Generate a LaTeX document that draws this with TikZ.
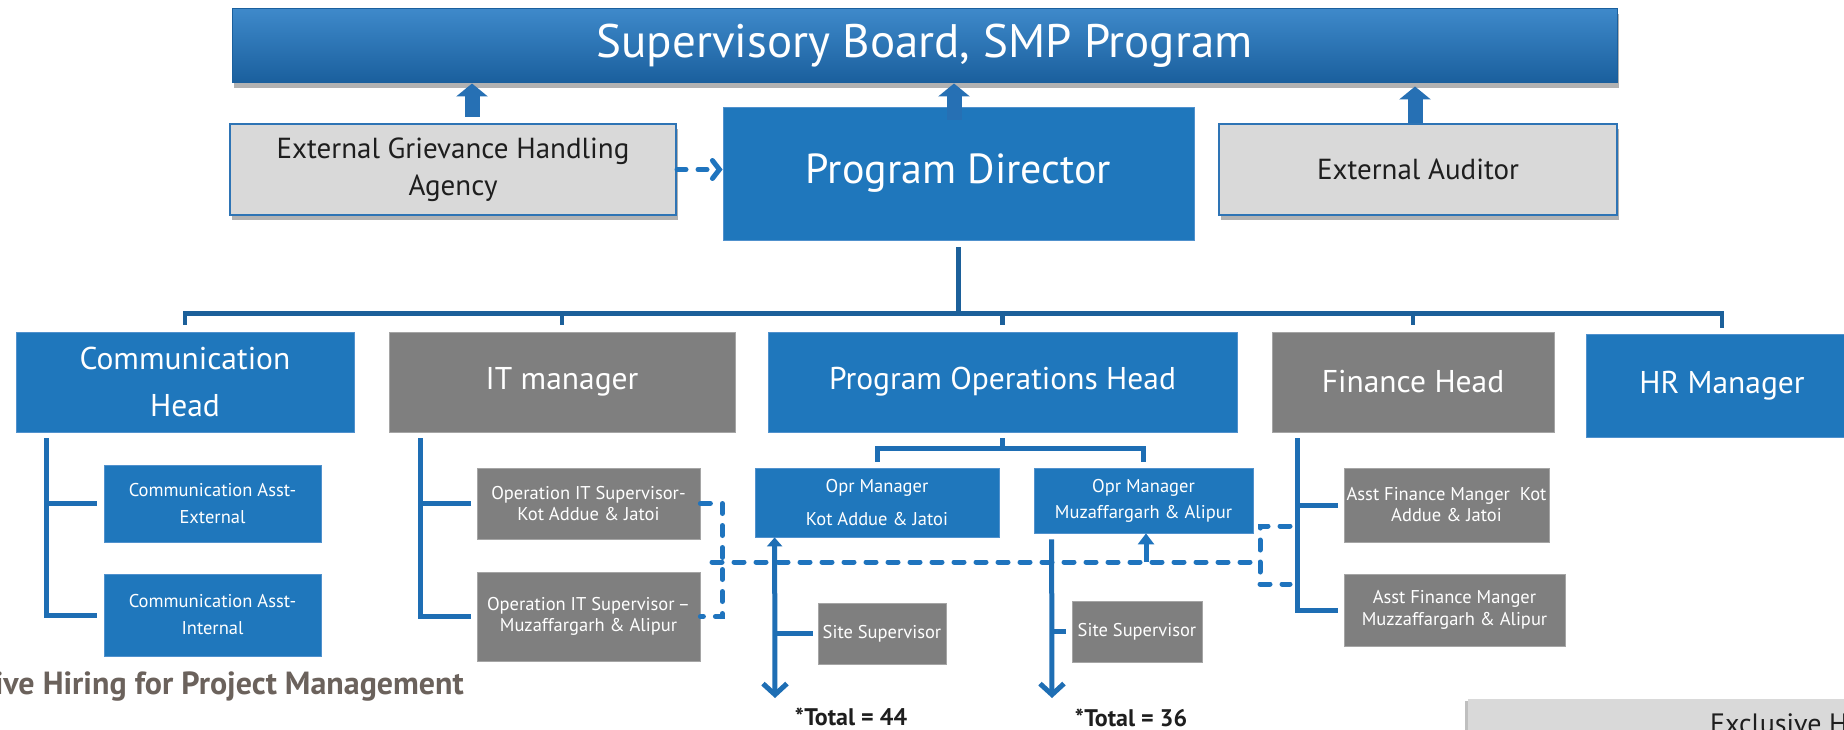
\documentclass[tikz,border=0pt]{standalone}
\usepackage{fontspec}
\setmainfont{PT Sans}
\usetikzlibrary{arrows.meta,shadows,calc}
\definecolor{boxblue}{RGB}{31,119,188}
\definecolor{boxblueedge}{RGB}{80,145,205}
\definecolor{boxgray}{RGB}{127,127,127}
\definecolor{boxgrayedge}{RGB}{165,165,165}
\definecolor{boxlight}{RGB}{217,217,217}
\definecolor{lightedge}{RGB}{46,116,181}
\definecolor{suptop}{RGB}{62,137,202}
\definecolor{supbot}{RGB}{26,95,157}
\definecolor{busblue}{RGB}{28,96,154}
\definecolor{brblue}{RGB}{30,110,180}
\definecolor{dshblue}{RGB}{31,116,190}
\definecolor{arrblue}{RGB}{38,112,180}
\definecolor{textdark}{RGB}{30,30,30}
\definecolor{brownish}{RGB}{107,98,92}
\begin{document}
\begin{tikzpicture}[x=1pt,y=-1pt,
  box/.style={rectangle, inner sep=0pt, align=center, text=white},
  bluebox/.style={box, fill=boxblue, draw=boxblueedge, line width=0.8pt},
  graybox/.style={box, fill=boxgray, draw=boxgrayedge, line width=0.8pt},
  lightbox/.style={box, fill=boxlight, draw=lightedge, line width=2pt, text=textdark,
    drop shadow={shadow xshift=2pt, shadow yshift=-5pt, opacity=0.3, fill=black}},
  big/.style={font=\fontsize{31.5}{47}\selectfont},
  mid/.style={font=\fontsize{29}{37}\selectfont},
  small/.style={font=\fontsize{18.5}{27}\selectfont},
  blockarr/.style={draw=arrblue, line width=15pt, -{Triangle[length=13pt,width=31pt]}},
  dasharr/.style={draw=dshblue, line width=5pt, dash pattern=on 9pt off 12pt, line cap=round,
    -{Straight Barb[length=7pt,width=18pt,line cap=round]}},
  dsh/.style={draw=dshblue, line width=5pt, dash pattern=on 10pt off 12pt, line cap=round},
  bus/.style={draw=busblue, line width=4.5pt},
  brk/.style={draw=brblue, line width=5pt},
]
\clip (0,0) rectangle (1844,730);
\fill[white] (0,0) rectangle (1844,730);

% top level
\node[box, top color=suptop, bottom color=supbot, draw=supbot, line width=1pt,
  minimum width=1385pt, minimum height=74pt, font=\fontsize{47}{56}\selectfont,
  drop shadow={shadow xshift=2pt, shadow yshift=-5pt, opacity=0.3, fill=black}]
  (sup) at (924.5,46) {Supervisory Board, SMP Program};
\node[lightbox, mid, minimum width=446pt, minimum height=91pt] (egha) at (453,169.5)
  {External Grievance Handling\\Agency};
\node[bluebox, font=\fontsize{42}{50}\selectfont, minimum width=471pt, minimum height=133pt]
  (pd) at (958.5,173.5) {Program Director};
\node[lightbox, mid, minimum width=398pt, minimum height=91pt] (aud) at (1418,169.5)
  {External Auditor};

% block arrows
\coordinate (a1) at ([xshift=19pt,yshift=6pt]egha.north);
\coordinate (a2) at ([xshift=-4.5pt,yshift=-13pt]pd.north);
\coordinate (a3) at ([xshift=-3pt]aud.north);
\draw[blockarr] (a1) -- (a1 |- sup.south);
\draw[blockarr] (a2) -- (a2 |- sup.south);
\draw[blockarr] (a3) -- ([yshift=-3pt]a3 |- sup.south);

\draw[dasharr] (egha.east) -- (egha.east -| pd.west);

% level 2
\node[bluebox, big, minimum width=338pt, minimum height=100pt] (comm) at (185,382)
  {Communication\\Head};
\node[graybox, big, minimum width=346pt, minimum height=100pt] (it) at (562,382) {IT manager};
\node[bluebox, big, minimum width=469pt, minimum height=100pt] (poh) at (1002.5,382)
  {Program Operations Head};
\node[graybox, big, minimum width=282pt, minimum height=100pt] (fin) at (1413,382) {Finance Head};
\node[bluebox, big, minimum width=272pt, minimum height=103pt] (hr) at (1722,385.5) {HR Manager};

% bus
\coordinate (pdb) at ([yshift=-7pt]pd.south);
\coordinate (bl) at ([yshift=18pt]comm.north);
\coordinate (brr) at ([yshift=20pt]hr.north);
\draw[bus] ([yshift=7pt]comm.north) -- (bl) -- (brr) -- ([yshift=6pt]hr.north);
\draw[bus] (pdb) -- (pdb |- bl);
\draw[bus] ([yshift=7pt]it.north) -- ([yshift=18pt]it.north);
\draw[bus] ([yshift=7pt]poh.north) -- ([yshift=18pt]poh.north);
\draw[bus] ([yshift=7pt]fin.north) -- ([yshift=18pt]fin.north);

% communication children
\node[bluebox, small, minimum width=217pt, minimum height=77pt] (cae) at (212.5,503.5)
  {Communication Asst-\\External};
\node[bluebox, small, minimum width=217pt, minimum height=82pt] (cai) at (212.5,615)
  {Communication Asst-\\Internal};
\coordinate (cb) at ([xshift=31pt,yshift=-6pt]comm.south west);
\draw[brk] (cb) |- ([xshift=-7pt]cai.west);
\draw[brk] (cb |- cae.west) -- ([xshift=-7pt]cae.west);

% IT children
\node[graybox, font=\fontsize{18.5}{21}\selectfont, minimum width=223pt, minimum height=71pt]
  (its1) at (588.5,503.5) {Operation IT Supervisor-\\Kot Addue \& Jatoi};
\node[graybox, font=\fontsize{18.5}{21}\selectfont, minimum width=223pt, minimum height=89pt]
  (its2) at (588.5,616.5) {Operation IT Supervisor\,–\\Muzaffargarh \& Alipur};
\coordinate (ib) at ([xshift=32pt,yshift=-6pt]it.south west);
\draw[brk] (ib) |- ([xshift=-6pt]its2.west);
\draw[brk] (ib |- its1.west) -- ([xshift=-6pt]its1.west);

% operations children
\node[bluebox, font=\fontsize{18.5}{33}\selectfont, minimum width=244pt, minimum height=69pt]
  (opm1) at (877,502.5) {Opr Manager\\Kot Addue \& Jatoi};
\node[bluebox, font=\fontsize{18.5}{29}\selectfont, minimum width=219pt, minimum height=65pt]
  (opm2) at (1143.5,500.5) {\raisebox{-3pt}{Opr Manager}\\Muzaffargarh \& Alipur};
\draw[brk] ([yshift=-6pt]poh.south) -- ([yshift=-17pt]poh.south);
\draw[brk] ([yshift=6pt]opm1.north) |- ([yshift=19pt]opm2.north) -- ([yshift=6pt]opm2.north);

\node[graybox, small, minimum width=128pt, minimum height=61pt] (ss1) at (882,633.5) {Site Supervisor};
\node[graybox, small, minimum width=130pt, minimum height=61pt] (ss2) at (1137,631.5) {Site Supervisor};

% dashed links
\draw[dsh] (its1.east) -- ++(22,0) |- (its2.east);
\coordinate (dm1) at (712,562);
\coordinate (dm2) at (1260,562);
\coordinate (df1) at (1290,526);
\coordinate (df2) at (1290,584);
\coordinate (du) at (1146,562);
\draw[dsh] (dm1) -- (dm2);
\draw[dsh] (df1) -| (dm2) |- (df2);
\draw[draw=dshblue, line width=5pt, -{Triangle[length=11pt,width=16pt]}] (du) -- (du |- opm2.south);

% staff arrows
\coordinate (s1t) at ([xshift=20pt]opm1.south west);
\coordinate (s1b) at (775,698);
\draw[brk, {Triangle[length=9pt,width=15pt]}-{Straight Barb[length=11pt,width=24pt]}] (s1t) -- (s1b);
\draw[brk] (s1t |- ss1.west) -- ([xshift=-5pt]ss1.west);
\coordinate (s2t) at ([xshift=18pt,yshift=-6pt]opm2.south west);
\coordinate (s2b) at (1052,698);
\draw[brk, -{Straight Barb[length=11pt,width=24pt]}] (s2t) -- (s2b);
\draw[brk] (s2t |- ss2.west) -- ([xshift=-6pt]ss2.west);

\node[font=\fontsize{24}{28}\selectfont\bfseries, text=textdark] (t44) at (851,717) {*Total = 44};
\node[font=\fontsize{24}{28}\selectfont\bfseries, text=textdark] (t36) at (1131,718) {*Total = 36};

% finance children
\node[graybox, font=\fontsize{18.5}{21}\selectfont, minimum width=205pt, minimum height=74pt]
  (af1) at (1446.5,505) {Asst Finance Manger\ \ Kot\\Addue \& Jatoi};
\node[graybox, font=\fontsize{18.5}{22}\selectfont, minimum width=221pt, minimum height=72pt]
  (af2) at (1454.5,610) {Asst Finance Manger\\Muzzaffargarh \& Alipur};
\coordinate (fb) at ([xshift=26pt,yshift=-6pt]fin.south west);
\draw[brk] (fb) |- ([xshift=-6pt]af2.west);
\draw[brk] (fb |- af1.west) -- ([xshift=-6pt]af1.west);

% bottom fragments
\node[anchor=east, inner sep=0pt, text=brownish, font=\fontsize{32}{38}\selectfont\bfseries]
  (lefttxt) at (464,687) {ive Hiring for Project Management};
\node[box, fill=boxlight, minimum width=440pt, minimum height=70pt,
  drop shadow={shadow xshift=-3pt, shadow yshift=-2pt, opacity=0.25, fill=black}]
  (excl) at (1688,734) {};
\node[anchor=west, inner sep=0pt, text=textdark, font=\fontsize{28}{34}\selectfont]
  (excltxt) at (1710,724) {Exclusive Hi};
\end{tikzpicture}
\end{document}
